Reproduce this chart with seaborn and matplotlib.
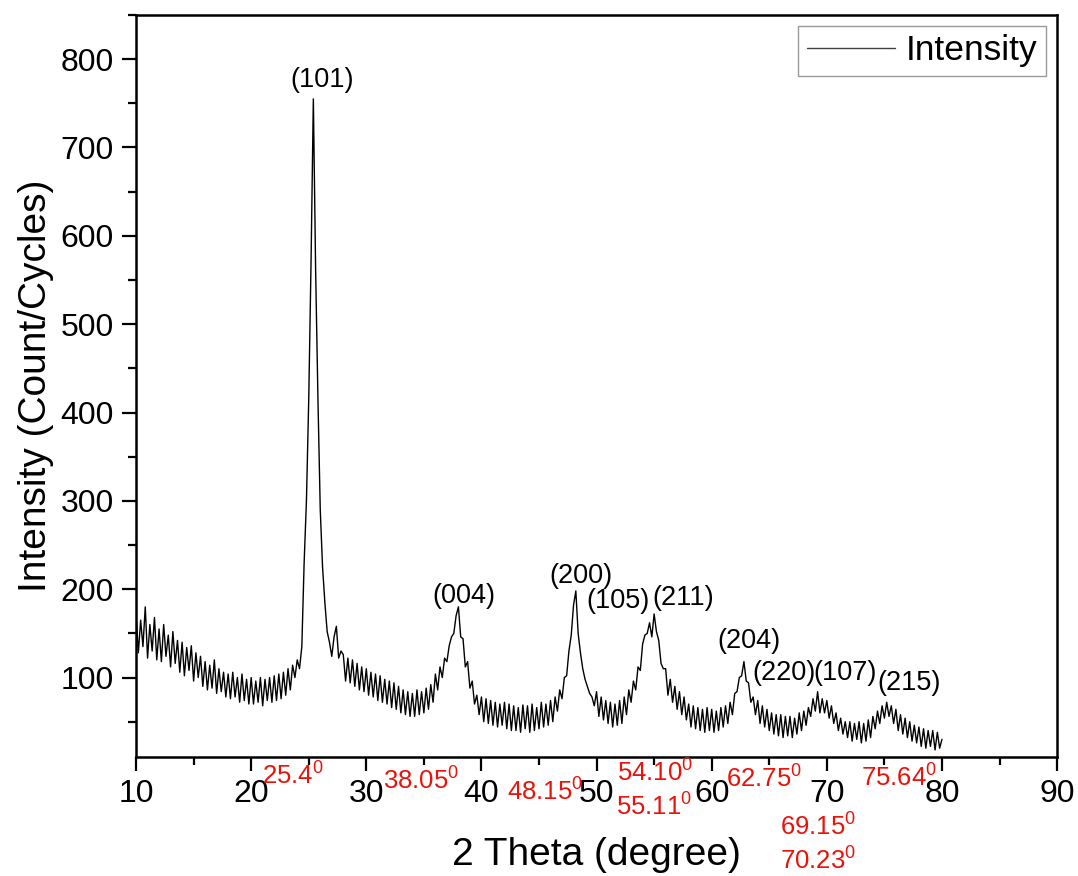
import numpy as np
import pandas as pd
import matplotlib.pyplot as plt
import seaborn as sns

# XRD scan, 0.2 degree step from 10 to 80
two_theta = np.round(np.arange(10.0, 80.01, 0.2), 1)
intensity = [
    172, 128, 165, 135, 180, 122, 160, 130, 168, 120,   # 10
    155, 118, 160, 124, 148, 112, 152, 116, 142, 106,   # 12
    140, 102, 134, 108, 136, 96, 128, 100, 124, 90,     # 14
    118, 86, 114, 88, 120, 82, 110, 84, 106, 78,        # 16
    104, 76, 106, 78, 100, 72, 104, 74, 98, 70,         # 18
    100, 70, 96, 72, 100, 68, 98, 74, 100, 72,          # 20
    102, 74, 104, 76, 106, 80, 110, 86, 114, 100,       # 22
    120, 110, 135, 230, 300, 415, 570, 755, 560, 415,   # 24
    290, 225, 185, 152, 140, 124, 146, 158, 122, 130,   # 26
    126, 96, 122, 94, 120, 90, 116, 86, 112, 84,        # 28
    110, 80, 106, 78, 104, 74, 102, 72, 98, 70,         # 30
    96, 66, 94, 64, 90, 60, 86, 58, 84, 56,             # 32
    82, 56, 86, 58, 84, 60, 88, 64, 92, 72,             # 34
    104, 86, 112, 100, 122, 118, 136, 146, 150, 170,    # 36
    180, 146, 144, 112, 118, 88, 96, 70, 80, 58,        # 38
    78, 50, 76, 48, 74, 46, 72, 44, 70, 46,             # 40
    72, 42, 70, 40, 68, 40, 66, 38, 69, 42,             # 42
    68, 38, 70, 40, 66, 42, 72, 44, 70, 46,             # 44
    74, 50, 78, 62, 86, 76, 100, 102, 130, 148,         # 46
    182, 198, 150, 128, 110, 98, 90, 82, 78, 68,        # 48
    84, 56, 78, 52, 74, 48, 72, 44, 70, 46,             # 50
    74, 48, 78, 58, 86, 72, 96, 86, 112, 108,           # 52
    138, 148, 150, 162, 146, 172, 152, 142, 116, 110,   # 54
    110, 80, 98, 72, 90, 64, 84, 58, 78, 52,            # 56
    70, 44, 68, 42, 66, 40, 64, 38, 66, 40,             # 58
    64, 38, 62, 40, 66, 44, 68, 48, 72, 58,             # 60
    82, 84, 100, 102, 118, 96, 94, 72, 78, 58,          # 62
    74, 48, 68, 44, 64, 40, 60, 36, 58, 34,             # 64
    58, 32, 56, 34, 56, 32, 54, 36, 60, 40,             # 66
    62, 46, 66, 56, 76, 62, 84, 60, 76, 60,             # 68
    74, 54, 68, 48, 60, 40, 54, 36, 50, 32,             # 70
    50, 28, 48, 30, 50, 26, 48, 28, 52, 32,             # 72
    56, 42, 62, 48, 68, 54, 72, 56, 68, 48,             # 74
    64, 40, 58, 36, 54, 32, 50, 28, 46, 26,             # 76
    44, 22, 42, 20, 40, 22, 40, 18, 38, 20,             # 78
    30,                                                 # 80
]

# Miller indices above the peaks
hkl = ["(101)", "(004)", "(200)", "(105)", "(211)", "(204)", "(220)", "(107)", "(215)"]
hkl_x = [26.15, 38.5, 48.6, 51.9, 57.5, 63.2, 66.3, 71.6, 77.1]
hkl_y = [776, 192, 215, 187, 190, 141, 105, 105, 94]

# peak positions written in red under the axis
peak_text = ["25.4", "38.05", "48.15", "54.10", "55.11", "62.75", "69.15", "70.23", "75.64"]
peak_x = [23.64, 34.76, 45.5, 55.1, 55.0, 64.56, 69.25, 69.25, 76.3]
peak_y = [-0.036, -0.043, -0.057, -0.032, -0.077, -0.040, -0.104, -0.151, -0.038]

df = pd.DataFrame({"2 Theta": two_theta, "Intensity": intensity})

sns.set_style("ticks")
plt.rcParams["font.family"] = ["Liberation Sans", "DejaVu Sans"]
plt.rcParams["mathtext.fontset"] = "custom"
plt.rcParams["mathtext.rm"] = "Liberation Sans"
plt.rcParams["text.color"] = "black"
plt.rcParams["axes.labelcolor"] = "black"
plt.rcParams["xtick.color"] = "black"
plt.rcParams["ytick.color"] = "black"

fig = plt.figure(figsize=(10.78, 8.76), dpi=100)
ax = fig.add_axes([0.1262, 0.1358, 0.8544, 0.8471])

sns.lineplot(data=df, x="2 Theta", y="Intensity", color="black", lw=1.0,
             label="Intensity", ax=ax)

ax.set_xlim(10, 90)
ax.set_ylim(10, 850)
ax.set_xticks(range(10, 91, 10))
ax.set_xticks(range(15, 90, 10), minor=True)
ax.set_yticks(range(100, 801, 100))
ax.set_yticks(range(50, 851, 100), minor=True)
ax.tick_params(which="major", length=10, width=1.6, labelsize=23, pad=6)
ax.tick_params(which="minor", length=5.5, width=1.6)
for s in ax.spines.values():
    s.set_linewidth(1.8)
    s.set_color("black")

ax.set_xlabel("2 Theta (degree)", fontsize=28, labelpad=20)
ax.set_ylabel("Intensity (Count/Cycles)", fontsize=28, labelpad=5)

for t, x, y in zip(hkl, hkl_x, hkl_y):
    ax.text(x, y, t, fontsize=19.5, ha="center", va="center")

tr = ax.get_xaxis_transform()
for t, x, y in zip(peak_text, peak_x, peak_y):
    ax.text(x, y, t + r"$^\mathregular{0}$", transform=tr, color="#e8140c",
            fontsize=18.5, ha="center", va="baseline", clip_on=False)

leg = ax.legend(loc="upper right", fontsize=25.5, frameon=True, fancybox=False,
                handlelength=2.5, handletextpad=0.3, borderpad=0.25,
                borderaxespad=0.3)
leg.get_frame().set_edgecolor("#808080")
leg.get_frame().set_linewidth(1.0)
leg.get_lines()[0].set_color("#404040")
leg.get_lines()[0].set_linewidth(1.0)

fig.savefig("out.png", dpi=100)
